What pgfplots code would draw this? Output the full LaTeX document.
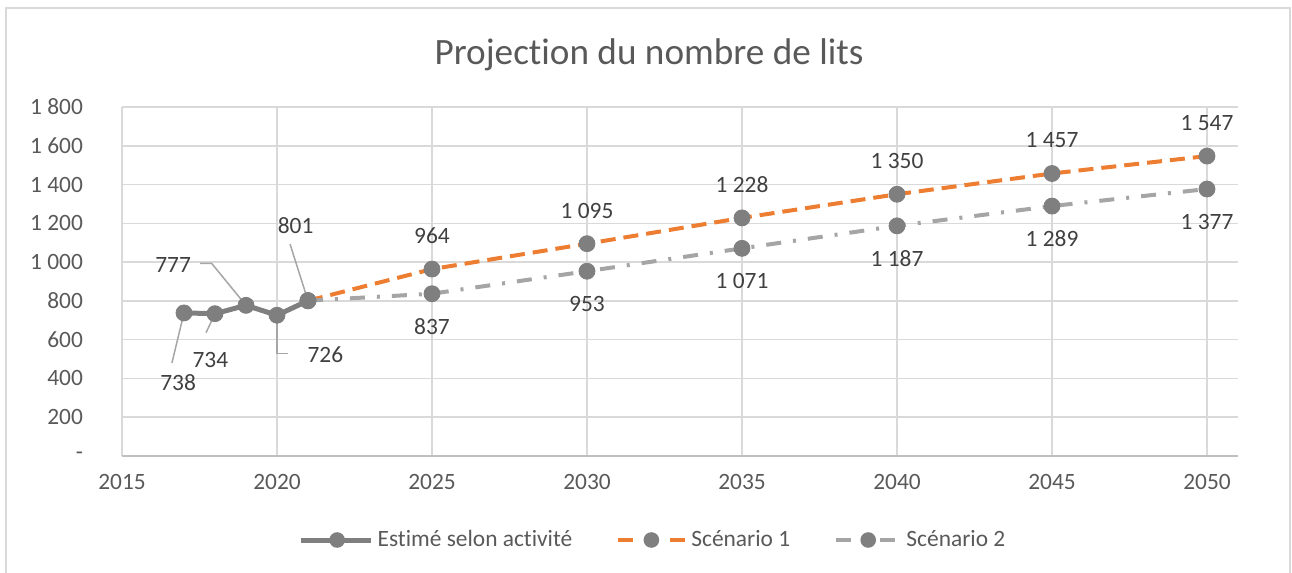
\documentclass[border=0pt]{standalone}
\usepackage{fontspec}
\setmainfont{Carlito}[Ligatures={NoCommon}]
\usepackage{pgfplots}
\usepackage{pgfplotstable}
\pgfplotsset{compat=1.18}
\definecolor{txt}{HTML}{595959}
\definecolor{lbl}{HTML}{404040}
\definecolor{gridc}{HTML}{D9D9D9}
\definecolor{axisc}{HTML}{BFBFBF}
\definecolor{mk}{HTML}{7F7F7F}
\definecolor{sone}{HTML}{7F7F7F}
\definecolor{orng}{HTML}{ED7D31}
\definecolor{stwo}{HTML}{A5A5A5}
\definecolor{leadc}{HTML}{A6A6A6}
\definecolor{framec}{HTML}{D9D9D9}

\pgfplotstableread{
year val
2017 738
2018 734
2019 777
2020 726
2021 801
}\estime
\pgfplotstableread{
year val
2021 801
2025 964
2030 1095
2035 1228
2040 1350
2045 1457
2050 1547
}\scenA
\pgfplotstableread{
year val
2021 801
2025 837
2030 953
2035 1071
2040 1187
2045 1289
2050 1377
}\scenB

\begin{document}
\begin{tikzpicture}
\useasboundingbox (0,0) rectangle (646pt,286.5pt);
\draw[framec, line width=1pt] (3pt,0pt) -- (3pt,282.5pt) -- (645pt,282.5pt) -- (645pt,0pt);
\node[font=\fontsize{18.6}{21}\selectfont, text=txt] at (324.5pt,259pt) {Projection du nombre de lits};
\begin{axis}[
  at={(61pt,58.5pt)}, anchor=south west,
  scale only axis, width=558pt, height=174.5pt,
  xmin=2015, xmax=2051, ymin=0, ymax=1800,
  xtick={2015,2020,...,2050},
  xticklabels={2015,2020,2025,2030,2035,2040,2045,2050},
  ytick={0,200,...,1800},
  yticklabels={{-\hspace{5pt}},200,400,600,800,1 000,1 200,1 400,1 600,1 800},
  grid=major,
  major grid style={draw=gridc, line width=0.75pt},
  axis x line*=bottom, axis y line*=left,
  x axis line style={draw=axisc, line width=0.75pt, -},
  y axis line style={draw=none},
  major tick length=0pt,
  tick label style={font=\fontsize{11.7}{13}\selectfont, text=txt},
  yticklabel style={xshift=-16pt},
  xticklabel style={yshift=-5.5pt},
  clip=false,
  /pgf/number format/assume math mode=true,
  /pgf/number format/1000 sep={\ },
  legend columns=3,
  legend style={draw=none, fill=none, at={(axis description cs:0.4767,-0.2407)}, anchor=center,
    font=\fontsize{11.7}{13}\selectfont, text=txt,
    /tikz/every even column/.append style={column sep=20pt},
    /tikz/every odd column/.append style={column sep=0pt}},
]
% leader lines
\draw[leadc, line width=0.75pt] (axis cs:2016.61,479.7) -- (axis cs:2017,738);
\draw[leadc, line width=0.75pt] (axis cs:2017.71,636) -- (axis cs:2018,734);
\draw[leadc, line width=0.75pt] (axis cs:2017.52,993.9) -- (axis cs:2017.89,993.9) -- (axis cs:2019,777);
\draw[leadc, line width=0.75pt] (axis cs:2020,726) -- (axis cs:2020,529.6) -- (axis cs:2020.37,529.6);
\draw[leadc, line width=0.75pt] (axis cs:2020.42,1093.4) -- (axis cs:2021,801);

\addplot[sone, line width=2.5pt, mark=*, mark size=4pt,
  mark options={fill=mk, draw=mk, line width=0.4pt, solid},
  legend image code/.code={
    \draw[sone, solid, line width=2.5pt] (0pt,0pt) -- (35pt,0pt);
    \path[fill=mk, draw=none] (18pt,0pt) circle (3.9pt);}]
  table[x=year, y=val] {\estime};
\addlegendentry{Estimé selon activité}

\addplot[orng, line width=2pt, dash pattern=on 7.5pt off 4pt, mark=*, mark size=4pt,
  mark options={fill=mk, draw=mk, line width=0.4pt, solid},
  legend image code/.code={
    \draw[orng, solid, line width=2pt] (1.5pt,0pt) -- (9pt,0pt);
    \draw[orng, solid, line width=2pt] (27.5pt,0pt) -- (35pt,0pt);
    \path[fill=mk, draw=none] (18pt,0pt) circle (3.9pt);}]
  table[x=year, y=val] {\scenA};
\addlegendentry{Scénario 1}

\addplot[stwo, line width=2pt, dash pattern=on 7.5pt off 6pt on 1.5pt off 6pt, mark=*, mark size=4pt,
  mark options={fill=mk, draw=mk, line width=0.4pt, solid},
  legend image code/.code={
    \draw[stwo, solid, line width=2pt] (0pt,0pt) -- (7.5pt,0pt);
    \draw[stwo, solid, line width=2pt] (22pt,0pt) -- (29.5pt,0pt);
    \path[fill=mk, draw=none] (16pt,0pt) circle (3.9pt);}]
  table[x=year, y=val] {\scenB};
\addlegendentry{\ Scénario 2}

% data labels for scenarios
\addplot[draw=none, mark=none, forget plot, skip coords between index={0}{1},
  point meta=y,
  nodes near coords={\pgfmathprintnumber{\pgfplotspointmeta}},
  every node near coord/.style={anchor=center, yshift=16.5pt, font=\fontsize{11.7}{13}\selectfont, text=lbl}]
  table[x=year, y=val] {\scenA};
\addplot[draw=none, mark=none, forget plot, skip coords between index={0}{1},
  point meta=y,
  nodes near coords={\pgfmathprintnumber{\pgfplotspointmeta}},
  every node near coord/.style={anchor=center, yshift=-16.5pt, font=\fontsize{11.7}{13}\selectfont, text=lbl}]
  table[x=year, y=val] {\scenB};

% data labels for estimated series
\node[font=\fontsize{11.7}{13}\selectfont, text=lbl] at (axis cs:2016.81,376.5) {738};
\node[font=\fontsize{11.7}{13}\selectfont, text=lbl] at (axis cs:2017.85,497.7) {734};
\node[font=\fontsize{11.7}{13}\selectfont, text=lbl] at (axis cs:2016.65,987.7) {777};
\node[font=\fontsize{11.7}{13}\selectfont, text=lbl] at (axis cs:2021.56,523.5) {726};
\node[font=\fontsize{11.7}{13}\selectfont, text=lbl] at (axis cs:2020.60,1188.8) {801};
\end{axis}
\end{tikzpicture}
\end{document}
